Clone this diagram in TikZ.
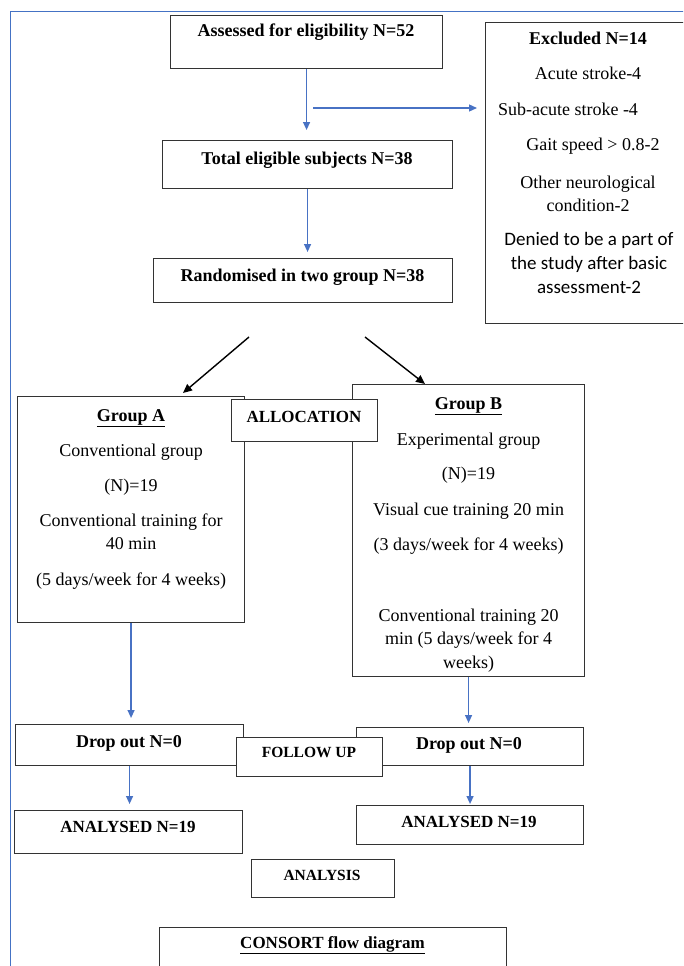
\documentclass[tikz,border=0pt]{standalone}
\usepackage{fontspec}
\setmainfont{Liberation Serif}
\newfontfamily\calibri{Carlito}
\usetikzlibrary{arrows.meta,positioning}
\definecolor{frameblue}{RGB}{68,114,196}
\definecolor{arrowblue}{RGB}{72,114,196}
\tikzset{
  box/.style={draw=black!80, line width=1.1pt, fill=white, anchor=north west, inner sep=0pt},
  bluearr/.style={draw=arrowblue, line width=1.3pt, -{Triangle[length=8pt,width=7pt]}},
  blackarr/.style={draw=black, line width=1.4pt, -{Triangle[length=9pt,width=8pt]}},
  hd/.style={font=\bfseries\fontsize{18}{22}\selectfont, inner sep=0pt, text height=12pt, text depth=4pt},
  lbl/.style={font=\bfseries\fontsize{15.5}{19}\selectfont, inner sep=0pt, text height=11pt, text depth=3pt},
  txt/.style={font=\fontsize{18}{23}\selectfont, align=center, inner sep=0pt, anchor=north},
  ex/.style={font=\fontsize{18}{23}\selectfont, inner sep=0pt, text height=12pt, text depth=4pt},
  exs/.style={font=\calibri\fontsize{19}{24}\selectfont, align=center, inner sep=0pt, anchor=north},
}
\begin{document}
\begin{tikzpicture}[x=1pt,y=-1pt]
    \useasboundingbox (0,0) rectangle (683,966);
    \clip (0,0) rectangle (683,966);

    % Frame
    \draw[frameblue, line width=1pt] (10,970) -- (10,12) -- (690,12);

    % Screening
    \node[box, minimum width=272pt, minimum height=53pt] (assess) at (170,15) {};
    \node[hd] (assesst) at (306,33) {Assessed for eligibility N=52};
    \node[box, minimum width=290pt, minimum height=48pt] (total) at (162,140) {};
    \node[hd] (totalt) at (307,160) {Total eligible subjects N=38};
    \node[box, minimum width=299pt, minimum height=44pt] (rand) at (153,258) {};
    \node[hd] (randt) at (302.5,277) {Randomised in two group N=38};

    % Excluded
    \node[box, minimum width=220pt, minimum height=301pt] (excl) at (485,22) {};
    \node[hd] (ex1) at (588,41) {Excluded N=14};
    \node[ex] (ex2) at (588,75) {Acute stroke-4};
    \node[ex] (ex3) at (568,111) {Sub-acute stroke -4};
    \node[ex] (ex4) at (593,146) {Gait speed > 0.8-2};
    \node[txt] (ex5) at (588,176) {Other neurological\\condition-2};
    \node[exs] (ex6) at (589,232.5) {Denied to be a part of\\the study after basic\\assessment-2};

    \draw[bluearr, shorten >=10pt] (assess.south) -- (assess.south |- total.north);
    \coordinate (split) at (313,108);
    \draw[bluearr, shorten >=8pt] (split) -- (split -| excl.west);
    \draw[bluearr, shorten >=6pt] (total.south) -- (total.south |- rand.north);

    % Allocation
    \coordinate (lfrom) at (249,337);
    \coordinate (lto) at (183,393);
    \coordinate (rfrom) at (365,337);
    \coordinate (rto) at (425,384);
    \draw[blackarr] (lfrom) -- (lto);
    \draw[blackarr] (rfrom) -- (rto);

    \node[box, minimum width=227pt, minimum height=226pt] (grpa) at (17,396) {};
    \node[txt] (grpat) at (grpa.north |- 0,409) {\textbf{\underline{Group A}}\\[12pt]
      Conventional group\\[12pt] (N)=19\\[12pt] Conventional training for\\ 40 min\\[13pt]
      (5 days/week for 4 weeks)};
    \node[box, minimum width=232pt, minimum height=292pt] (grpb) at (352,384) {};
    \node[txt] (grpbt) at (grpb.north |- 0,397) {\textbf{\underline{Group B}}\\[13pt]
      Experimental group\\[11pt] (N)=19\\[13pt] Visual cue training 20 min\\[12pt]
      (3 days/week for 4 weeks)\\[48pt] Conventional training 20\\
      min (5 days/week for 4\\[1pt] weeks)};
    \node[box, minimum width=146pt, minimum height=42pt] (alloc) at (231,399) {};
    \node[lbl, font=\bfseries\fontsize{17}{20}\selectfont] (alloct) at (304,418) {ALLOCATION};

    % Follow up
    \node[box, minimum width=228pt, minimum height=41pt] (dropa) at (15,724) {};
    \node[hd] (dropat) at (129,743) {Drop out N=0};
    \node[box, minimum width=227pt, minimum height=38pt] (dropb) at (356,727) {};
    \node[hd] (dropbt) at (469,745) {Drop out N=0};
    \node[box, minimum width=146pt, minimum height=39pt] (follow) at (236,737) {};
    \node[lbl] (followt) at (309,753) {FOLLOW UP};

    \draw[bluearr, shorten >=6pt] (grpa.south) -- (grpa.south |- dropa.north);
    \draw[bluearr, shorten >=4pt] (grpb.south) -- (grpb.south |- dropb.north);

    % Analysis
    \node[box, minimum width=228pt, minimum height=43pt] (anaa) at (14,810) {};
    \node[hd, font=\bfseries\fontsize{17}{21}\selectfont] (anaat) at (128,828) {ANALYSED N=19};
    \node[box, minimum width=227pt, minimum height=39pt] (anab) at (356,805) {};
    \node[hd, font=\bfseries\fontsize{17}{21}\selectfont] (anabt) at (469,823) {ANALYSED N=19};
    \node[box, minimum width=143pt, minimum height=38pt] (ana) at (251,859) {};
    \node[lbl] (anat) at (322,876) {ANALYSIS};

    \draw[bluearr, shorten >=6pt] (dropa.south) -- (dropa.south |- anaa.north);
    \draw[bluearr, shorten >=1pt] (dropb.south) -- (dropb.south |- anab.north);

    % Caption
    \node[box, minimum width=347pt, minimum height=60pt] (consort) at (159,927) {};
    \node[hd, font=\bfseries\fontsize{17}{21}\selectfont] (consortt) at (332.5,944) {\underline{CONSORT flow diagram}};
\end{tikzpicture}
\end{document}
